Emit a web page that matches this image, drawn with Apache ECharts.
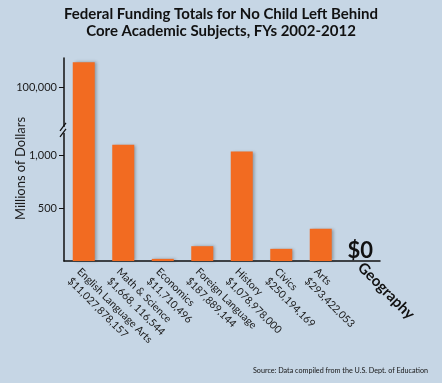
<!DOCTYPE html>
<html>
<head>
<meta charset="utf-8">
<script src="https://cdn.jsdelivr.net/npm/echarts@6/dist/echarts.min.js"></script>
<style>
html,body{margin:0;padding:0;background:#c6d6e5;}
#c{width:442px;height:383px;}
</style>
</head>
<body>
<div id="c"></div>
<script>
var categories = ['English Language Arts', 'Math & Science', 'Economics', 'Foreign Language', 'History', 'Civics', 'Arts', 'Geography'];
var amountLabels = ['$11,027,878,157', '$1,668, 116,544', '$11,710,496', '$187,889,144', '$1,078,978,000', '$250,194,169', '$293,422,053', ''];
var values = [100240, 1100, 20, 140, 1035, 115, 305, 0];
var tickValues = [500, 1000, 100000];
var tickLabels = ['500', '1,000', '100,000'];
var breakStart = 1240, breakEnd = 99600;

var FONT = 'Lato, "Open Sans", sans-serif';
var chart = echarts.init(document.getElementById('c'));

var xData = categories.map(function (c, i) {
  if (!amountLabels[i]) {
    return { value: c, textStyle: { fontWeight: 'bold', fontSize: 15, color: '#111', verticalAlign: 'middle' } };
  }
  return { value: c + '\n' + amountLabels[i] };
});

var barData = values.map(function (v, i) {
  if (v === 0) {
    return { value: v, label: { show: true, position: 'top', formatter: '$0', fontSize: 22, fontWeight: 'bold', color: '#111', fontFamily: FONT, distance: -1 } };
  }
  return v;
});

chart.setOption({
  backgroundColor: '#c6d6e5',
  animation: false,
  title: [{
    text: 'Federal Funding Totals for No Child Left Behind\nCore Academic Subjects, FYs 2002-2012',
    left: 'center', top: 1,
    textStyle: { fontFamily: FONT, fontWeight: 'bold', fontSize: 15, lineHeight: 17, color: '#111' }
  }, {
    text: 'Source: Data compiled from the U.S. Dept. of Education',
    right: 9, bottom: 4,
    textStyle: { fontFamily: FONT, fontWeight: 'normal', fontSize: 7.2, color: '#151515' }
  }],
  grid: { left: 64, right: 62, top: 58, bottom: 122, containLabel: false, outerBoundsMode: 'none' },
  xAxis: {
    type: 'category',
    data: xData,
    axisLine: { lineStyle: { color: '#111', width: 1.5 } },
    axisTick: { show: false },
    axisLabel: {
      interval: 0, rotate: -45, margin: 4, verticalAlign: 'top',
      fontFamily: FONT, fontSize: 10.5, lineHeight: 13.5, color: '#1a1a1a'
    }
  },
  yAxis: {
    type: 'value',
    min: 0, max: 100280,
    breaks: [{ start: breakStart, end: breakEnd, gap: 0 }],
    breakArea: { show: false },
    name: 'Millions of Dollars',
    nameLocation: 'middle', nameGap: 37, nameMoveOverlap: false,
    nameTextStyle: { fontFamily: FONT, fontSize: 13, color: '#1a1a1a', padding: [0, 0, 0, -18] },
    splitLine: { show: false },
    axisLine: { show: true, lineStyle: { color: '#111', width: 1.5 } },
    axisTick: { show: true, length: 5, customValues: tickValues, lineStyle: { color: '#111', width: 1 } },
    axisLabel: {
      customValues: tickValues, margin: 7,
      fontFamily: FONT, fontSize: 11, color: '#1a1a1a',
      formatter: function (v) {
        var i = tickValues.indexOf(v);
        return i >= 0 ? tickLabels[i] : '';
      }
    }
  },
  series: [{
    type: 'bar',
    data: barData,
    barWidth: 22,
    itemStyle: {
      color: '#f26b21',
      shadowBlur: 3, shadowColor: 'rgba(40,40,40,0.35)', shadowOffsetX: 2, shadowOffsetY: 0
    }
  }]
});

// break marker "//" on the y axis, positioned through the axis scale
var p = chart.convertToPixel({ xAxisIndex: 0, yAxisIndex: 0 }, [0, breakStart]);
var ax = 64, by = p[1];
chart.setOption({
  graphic: [
    { type: 'rect', shape: { x: ax - 3, y: by - 3, width: 6, height: 6 }, style: { fill: '#c6d6e5' }, z: 100 },
    { type: 'line', shape: { x1: ax - 4, y1: by + 1, x2: ax + 2, y2: by - 7 }, style: { stroke: '#111', lineWidth: 1.2 }, z: 101 },
    { type: 'line', shape: { x1: ax - 4, y1: by + 7, x2: ax + 2, y2: by - 1 }, style: { stroke: '#111', lineWidth: 1.2 }, z: 101 }
  ]
});
</script>
</body>
</html>
